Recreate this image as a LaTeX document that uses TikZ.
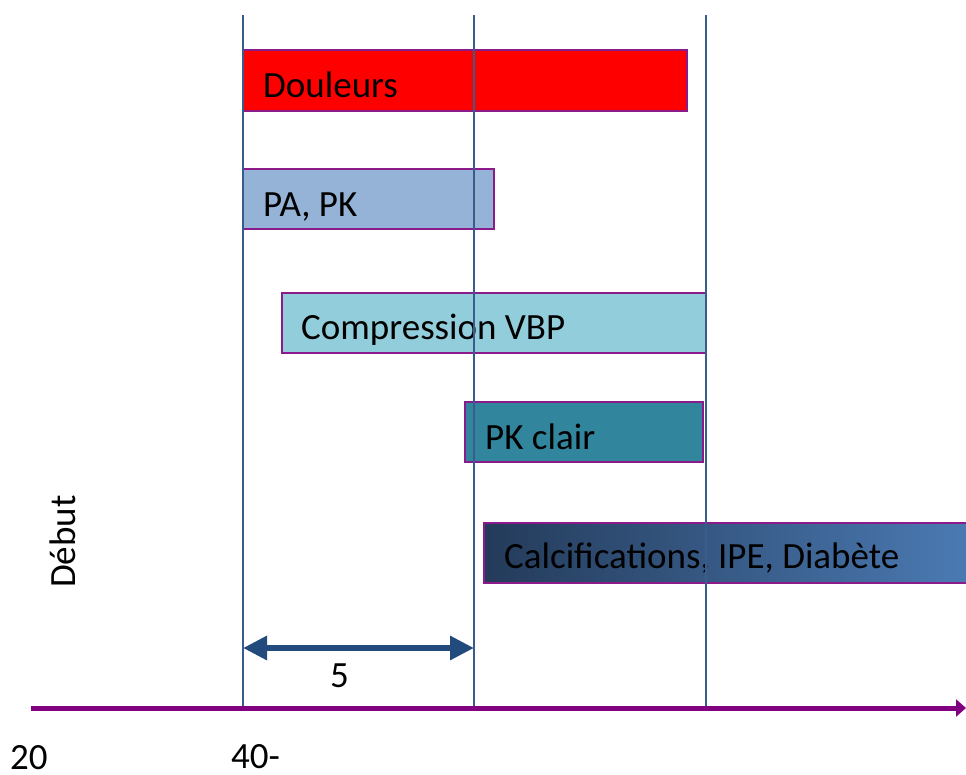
\documentclass[tikz,border=0pt]{standalone}
\usepackage{fontspec}
\setmainfont{Carlito}
\usetikzlibrary{arrows.meta}
\definecolor{barborder}{HTML}{8B1A8B}
\definecolor{vlinec}{HTML}{385D8A}
\definecolor{axisc}{HTML}{800080}
\definecolor{arrowc}{HTML}{234A7D}
\definecolor{paPk}{HTML}{95B3D7}
\definecolor{compr}{HTML}{92CDDC}
\definecolor{pkclair}{HTML}{31859C}
\definecolor{calcL}{HTML}{243B5A}
\definecolor{calcR}{HTML}{4F81BD}
\begin{document}
\begin{tikzpicture}[x=1pt,y=-1pt,
  bar/.style={draw=barborder,line width=1.8pt,anchor=north west,inner sep=0pt,outer sep=0pt},
  lbl/.style={anchor=base west,inner sep=0pt,font=\fontsize{37}{44}\selectfont},
  vline/.style={draw=vlinec,line width=1.8pt},
  axisline/.style={draw=axisc,line width=5pt,-{Triangle[length=10pt,width=17pt]}},
  dimarrow/.style={draw=arrowc,line width=6pt,{Triangle[length=24pt,width=23pt]}-{Triangle[length=24pt,width=23pt]}}]
\useasboundingbox (0,0) rectangle (966,774);
\clip (0,0) rectangle (966,774);
% bars
\node[bar,fill=red,minimum width=444pt,minimum height=61pt] (bdoul) at (243,50) {};
\node[bar,fill=paPk,minimum width=251pt,minimum height=60pt] (bpapk) at (243,169) {};
\node[bar,fill=compr,minimum width=424pt,minimum height=60pt] (bcomp) at (282,293) {};
\node[bar,fill=pkclair,minimum width=238pt,minimum height=60pt] (bpkc) at (465,402) {};
\node[bar,left color=calcL,right color=calcR,minimum width=540pt,minimum height=60pt] (bcalc) at (484,523) {};
% labels
\node[lbl] (tdoul) at (263,97) {Douleurs};
\node[lbl] (tpapk) at (263,216) {PA, PK};
\node[lbl] (tcomp) at (301,339) {Compression VBP};
\node[lbl] (tpkc) at (485,449) {PK clair};
\node[lbl] (tcalc) at (504,568) {Calcifications, IPE, Diabète};
% vertical lines
\coordinate (v1t) at (243,15); \coordinate (v1b) at (243,708);
\coordinate (v2t) at (474,15); \coordinate (v2b) at (474,708);
\coordinate (v3t) at (706,15); \coordinate (v3b) at (706,708);
\draw[vline] (v1t) -- (v1b);
\draw[vline] (v2t) -- (v2b);
\draw[vline] (v3t) -- (v3b);
% axis
\coordinate (ax0) at (31,708); \coordinate (ax1) at (966,708);
\draw[axisline] (ax0) -- (ax1);
% dimension arrow
\coordinate (d0) at (243,648); \coordinate (d1) at (474,648);
\draw[dimarrow] (d0) -- (d1);
\node[lbl] (tfive) at (330,687) {5};
% other texts
\node[lbl,rotate=90] (tdebut) at (75,588) {Début};
\node[lbl] (t20) at (10,769) {20};
\node[lbl] (t40) at (231,768) {40-};
\end{tikzpicture}
\end{document}
